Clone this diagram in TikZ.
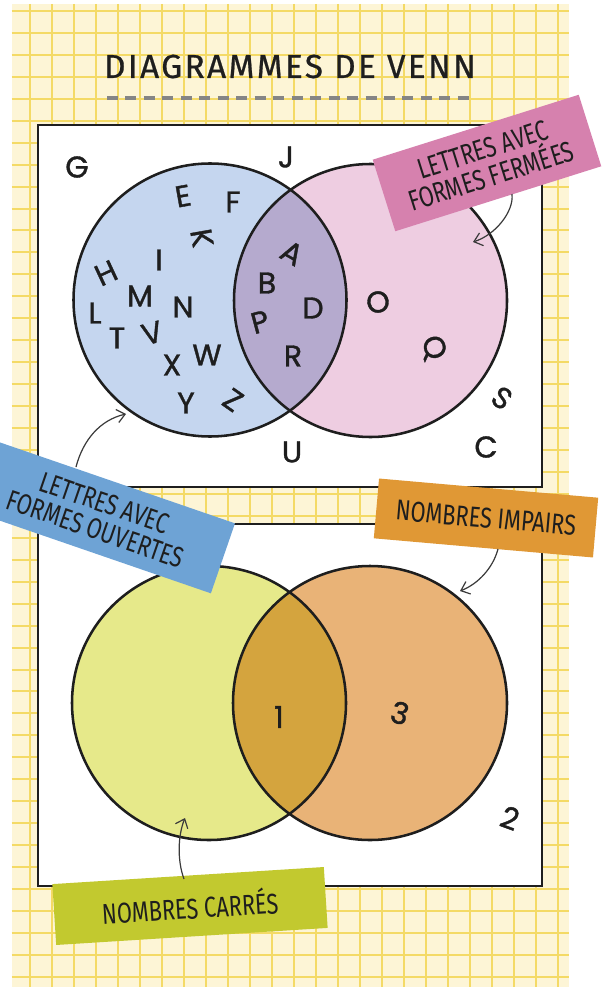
\documentclass[tikz,border=0pt]{standalone}
\usepackage{fontspec}
\setmainfont{Fira Sans}
\newfontfamily\titlefont[LetterSpace=7,FakeBold=0.6]{Fira Sans}
\newfontfamily\tagfont[FakeStretch=0.76]{Fira Sans}
\newfontfamily\vennfont[FakeBold=1.2]{Poppins}
\usetikzlibrary{arrows.meta}
\definecolor{bgcream}{HTML}{FDF5D6}
\definecolor{gridyel}{HTML}{F4DA66}
\definecolor{inkdark}{HTML}{1E1E1E}
\definecolor{dashgray}{HTML}{858585}
\definecolor{arrgray}{HTML}{3A3A3A}
\definecolor{tlblue}{HTML}{C5D6EF}
\definecolor{trpink}{HTML}{EECDE1}
\definecolor{tmid}{HTML}{B5AACE}
\definecolor{blyel}{HTML}{E6E98A}
\definecolor{brorange}{HTML}{E9B377}
\definecolor{bmid}{HTML}{D4A43E}
\definecolor{pinktag}{HTML}{D681AE}
\definecolor{bluetag}{HTML}{6EA3D5}
\definecolor{orangetag}{HTML}{E09835}
\definecolor{greentag}{HTML}{C2C92F}
\tikzset{
  gridline/.style={draw=gridyel, line width=1.5pt},
  panel/.style={draw=inkdark, fill=white, line width=2pt},
  ring/.style={draw=inkdark, line width=1.9pt},
  letter/.style={font=\vennfont\fontsize{22.5}{22.5}\selectfont, text=inkdark, inner sep=0pt},
  tagbox/.style={inner sep=0pt, align=center, text=inkdark,
    font=\tagfont\fontsize{21.5}{21}\selectfont},
  arr/.style={draw=arrgray, line width=0.9pt, -{Straight Barb[length=6pt,width=10pt]}}
}
\begin{document}
\begin{tikzpicture}[x=0.75pt,y=-0.75pt]
\useasboundingbox (0,0) rectangle (603,987);
\clip (0,0) rectangle (603,987);
% grid paper
\fill[bgcream] (11.5,4) rectangle (569,987);
\foreach \i in {0,...,24} \draw[gridline] ({29.5+22*\i},4) -- ({29.5+22*\i},987);
\foreach \i in {0,...,44} \draw[gridline] (11.5,{11+21.95*\i}) -- (569,{11+21.95*\i});
% title
\node[font=\titlefont\fontsize{25}{25}\selectfont, text=inkdark] (title) at (290,66.5) {DIAGRAMMES DE VENN};
\draw[dashgray, line width=2.7pt, dash pattern=on 8.25pt off 5.6pt] (107,98) -- (475,98);
% panels
\draw[panel] (38,125) rectangle (542,487);
\draw[panel] (38,524) rectangle (542,886);
% top venn
\fill[tlblue] (210,300) circle[radius=136.5];
\fill[trpink] (370.5,300.5) circle[radius=136.5];
\begin{scope}
  \clip (210,300) circle[radius=136.5];
  \fill[tmid] (370.5,300.5) circle[radius=136.5];
\end{scope}
\draw[ring] (210,300) circle[radius=136.5];
\draw[ring] (370.5,300.5) circle[radius=136.5];
% bottom venn
\fill[blyel] (209,703) circle[radius=137];
\fill[brorange] (370,703) circle[radius=137];
\begin{scope}
  \clip (209,703) circle[radius=137];
  \fill[bmid] (370,703) circle[radius=137];
\end{scope}
\draw[ring] (209,703) circle[radius=137];
\draw[ring] (370,703) circle[radius=137];
% letters
\node[letter] (lG) at (77,167) {G};
\node[letter] (lJ) at (286,157) {J};
\node[letter, rotate=10] (lE) at (183,196) {E};
\node[letter] (lF) at (233,202) {F};
\node[letter, rotate=-80] (lK) at (202,238) {K};
\node[letter, rotate=25] (lH) at (106,273) {H};
\node[letter] (lI) at (159,260) {I};
\node[letter] (lM) at (140,296) {M};
\node[letter] (lL) at (95,313) {L};
\node[letter] (lN) at (183,307) {N};
\node[letter] (lT) at (117,338) {T};
\node[letter, rotate=15] (lV) at (152,333) {V};
\node[letter] (lX) at (172,365) {X};
\node[letter] (lW) at (207,355) {W};
\node[letter] (lY) at (186,403) {Y};
\node[letter, rotate=-35] (lZ) at (233,400) {Z};
\node[letter, rotate=-30] (lA) at (292,253) {A};
\node[letter] (lB) at (267,283) {B};
\node[letter] (lD) at (313,308) {D};
\node[letter, rotate=15] (lP) at (260,322) {P};
\node[letter] (lR) at (293,356) {R};
\node[letter, rotate=10] (lO) at (378,302) {O};
\node[letter, rotate=-70] (lQ) at (433,348) {Q};
\node[letter, rotate=-35] (lS) at (502,398) {S};
\node[letter] (lC) at (486,447) {C};
\node[letter] (lU) at (292,452) {U};
% numbers
\node[letter] (n1) at (279,717) {1};
\node[letter, rotate=-15] (n3) at (400,713) {3};
\node[letter, rotate=-20] (n2) at (510,818) {2};
% tags
\node[tagbox, fill=pinktag, minimum width=162pt, minimum height=56.25pt, rotate=17.5] (tagpink) at (487,163) {LETTRES AVEC\\FORMES FERMÉES};
\node[tagbox, fill=bluetag, minimum width=195pt, minimum height=55.5pt, rotate=-19] (tagblue) at (100,516) {LETTRES AVEC\\FORMES OUVERTES};
\node[tagbox, fill=orangetag, minimum width=165pt, minimum height=45pt, rotate=-5] (tagorange) at (486,518) {NOMBRES IMPAIRS};
\node[tagbox, fill=greentag, minimum width=204pt, minimum height=45.75pt, rotate=3.6] (taggreen) at (190,906) {NOMBRES CARRÉS};
% arrows
\coordinate (pinkS) at (512,194);
\coordinate (pinkE) at (473,242);
\coordinate (blueS) at (76,467);
\coordinate (blueE) at (126,414);
\coordinate (orangeS) at (498,549);
\coordinate (orangeE) at (460,591);
\coordinate (greenS) at (184,879);
\coordinate (greenE) at (185,818);
\draw[arr] (pinkS) .. controls (514,212) and (495,235) .. (pinkE);
\draw[arr] (blueS) .. controls (83,440) and (100,420) .. (blueE);
\draw[arr] (orangeS) .. controls (493,568) and (478,584) .. (orangeE);
\draw[arr] (greenS) .. controls (177,860) and (178,835) .. (greenE);
\end{tikzpicture}
\end{document}
